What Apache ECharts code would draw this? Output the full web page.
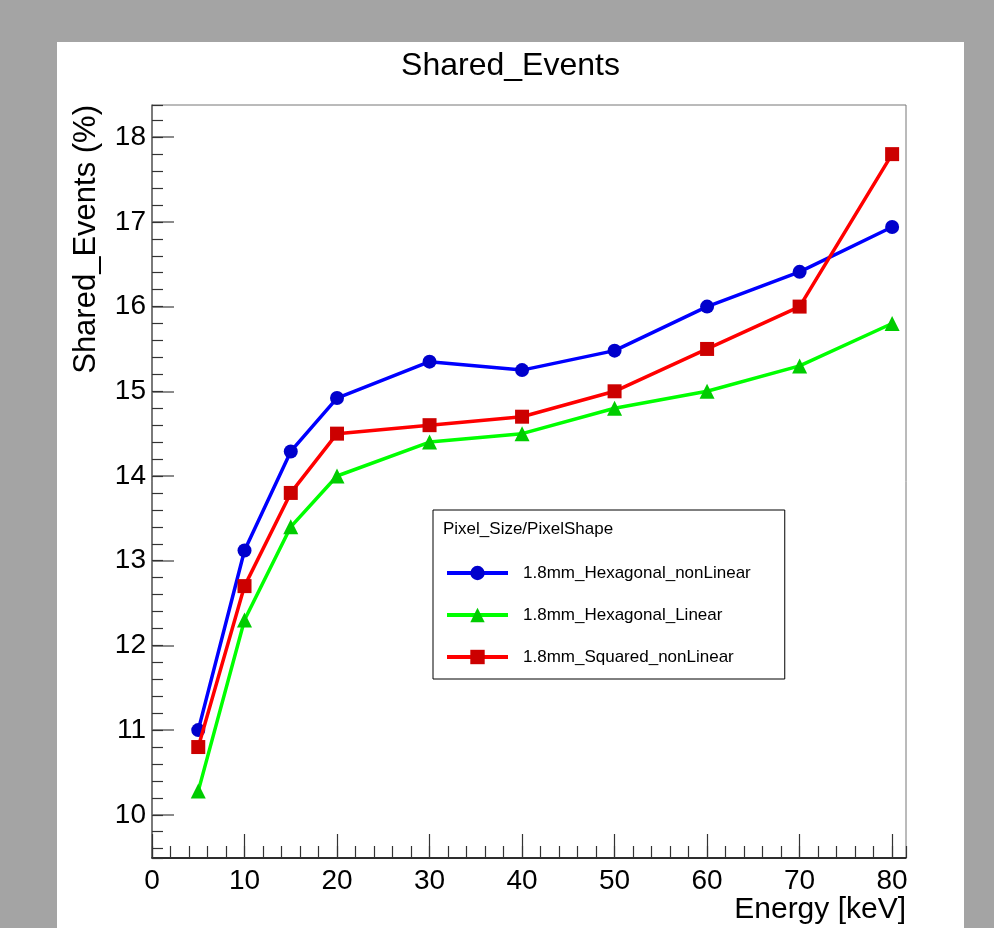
<!DOCTYPE html>
<html><head><meta charset="utf-8">
<script src="https://cdn.jsdelivr.net/npm/echarts@6/dist/echarts.min.js"></script>
<style>
html,body{margin:0;padding:0;width:994px;height:928px;background:#a4a4a4;overflow:hidden}
#c{position:absolute;left:57px;top:42px;width:907px;height:886px;background:#fff}
</style></head><body><div id="c"></div>
<script>
const chartTitle = 'Shared_Events';
const xTitle = 'Energy [keV]';
const yTitle = 'Shared_Events (%)';
const legendTitle = 'Pixel_Size/PixelShape';
const energies = [5, 10, 15, 20, 30, 40, 50, 60, 70, 80];
const hexNonLinear = [11.0, 13.12, 14.29, 14.92, 15.35, 15.25, 15.48, 16.0, 16.41, 16.94];
const hexLinear = [10.28, 12.30, 13.40, 14.0, 14.4, 14.5, 14.8, 15.0, 15.3, 15.8];
const sqNonLinear = [10.8, 12.7, 13.8, 14.5, 14.6, 14.7, 15.0, 15.5, 16.0, 17.8];
const seriesNames = ['1.8mm_Hexagonal_nonLinear', '1.8mm_Hexagonal_Linear', '1.8mm_Squared_nonLinear'];
const seriesValues = [hexNonLinear, hexLinear, sqNonLinear];
const lineColors = ['#0000ff', '#00ff00', '#ff0000'];
const markerColors = ['#0000cc', '#00cc00', '#cc0000'];
const markerShapes = ['circle', 'triangle', 'rect'];
const markerSizes = [14, 15, 14];

const FONT = "'Liberation Sans', Arial, Helvetica, sans-serif";
const X_MIN = 0, X_MAX = 81.5, Y_MIN = 9.49, Y_MAX = 18.38;

const chart = echarts.init(document.getElementById('c'), null, {renderer: 'canvas'});

const series = seriesNames.map((name, i) => ({
  name: name,
  type: 'line',
  xAxisIndex: 0,
  yAxisIndex: 0,
  data: energies.map((e, j) => [e, seriesValues[i][j]]),
  symbol: markerShapes[i],
  symbolSize: markerSizes[i],
  showSymbol: true,
  lineStyle: {color: lineColors[i], width: 3.5},
  itemStyle: {color: markerColors[i]},
  emphasis: {disabled: true},
  animation: false,
  z: 2 + i
}));

const option = {
  animation: false,
  textStyle: {fontFamily: FONT},
  title: [
    {text: chartTitle, left: 'center', top: 8, padding: 0,
     textStyle: {fontFamily: FONT, fontSize: 32, fontWeight: 'normal', color: '#000'}},
    {text: legendTitle, left: 386, top: 479, padding: 0, z: 10,
     textStyle: {fontFamily: FONT, fontSize: 17, fontWeight: 'normal', color: '#000'}}
  ],
  legend: {
    orient: 'vertical',
    left: 376, top: 468,
    padding: [54, 34, 13, 12],
    itemWidth: 61, itemHeight: 18, itemGap: 24,
    backgroundColor: '#fff',
    borderColor: '#000', borderWidth: 1,
    selectedMode: false,
    lineStyle: {width: 4},
    textStyle: {fontFamily: FONT, fontSize: 17, color: '#000', lineHeight: 18, padding: [0, 0, 0, 10]},
    data: seriesNames
  },
  grid: {left: 95, top: 63, right: 58, bottom: 70, containLabel: false, outerBoundsMode: 'none',
         show: true, borderColor: '#777', borderWidth: 1, backgroundColor: 'transparent'},
  xAxis: [
    {type: 'value', min: X_MIN, max: X_MAX, splitNumber: 8, position: 'bottom',
     name: xTitle, nameLocation: 'end', nameGap: 0,
     nameTextStyle: {fontFamily: FONT, fontSize: 30, color: '#000', align: 'right', verticalAlign: 'top', padding: [37, 0, 0, 0]},
     axisLine: {show: true, onZero: false, lineStyle: {color: '#000', width: 1.5}},
     axisTick: {show: true, inside: true, length: 24, lineStyle: {color: '#333', width: 1.2}},
     axisLabel: {fontFamily: FONT, fontSize: 28, color: '#000', margin: 9, showMinLabel: true, showMaxLabel: false, hideOverlap: false},
     splitLine: {show: false}},
    {type: 'value', min: X_MIN, max: X_MAX, splitNumber: 40, position: 'bottom', gridIndex: 0,
     axisLine: {show: false, onZero: false},
     axisTick: {show: true, inside: true, length: 12, lineStyle: {color: '#333', width: 1.2}},
     axisLabel: {show: false}, splitLine: {show: false}}
  ],
  yAxis: [
    {type: 'value', min: Y_MIN, max: Y_MAX, splitNumber: 9, position: 'left',
     name: yTitle, nameLocation: 'end', nameGap: 0, nameRotate: 90,
     nameTextStyle: {fontFamily: FONT, fontSize: 31, color: '#000', align: 'right', verticalAlign: 'bottom', padding: [0, 0, 50, 0]},
     axisLine: {show: true, onZero: false, lineStyle: {color: '#666', width: 1.5}},
     axisTick: {show: true, inside: true, length: 22, lineStyle: {color: '#666', width: 1.5}},
     axisLabel: {fontFamily: FONT, fontSize: 28, color: '#000', margin: 6, showMinLabel: false, showMaxLabel: false},
     splitLine: {show: false}},
    {type: 'value', min: Y_MIN, max: Y_MAX, splitNumber: 45, position: 'left', gridIndex: 0,
     axisLine: {show: false, onZero: false},
     axisTick: {show: true, inside: true, length: 11, lineStyle: {color: '#333', width: 1.2}},
     axisLabel: {show: false}, splitLine: {show: false}}
  ],
  series: series
};
chart.setOption(option);
</script></body></html>
